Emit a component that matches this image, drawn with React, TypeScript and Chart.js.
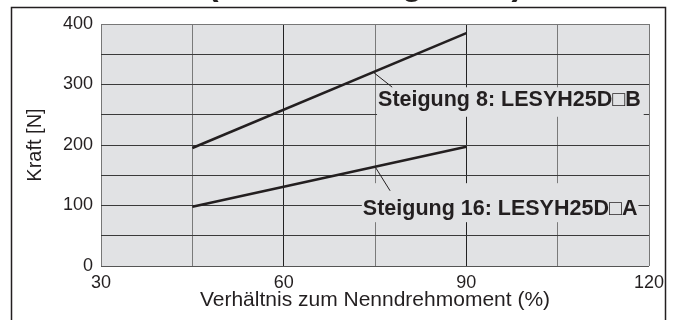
import React, { useEffect, useRef } from 'react';
import { Chart, registerables } from 'chart.js';

Chart.register(...registerables);

// ---- data ----
const torqueRatio8 = [45, 90];
const force8 = [195, 385];
const torqueRatio16 = [45, 90];
const force16 = [98, 197];
const xTickLabels = [30, 60, 90, 120];
const yTickLabels = [0, 100, 200, 300, 400];
const seriesLabels = ['Steigung 8: LESYH25D\u25A1B', 'Steigung 16: LESYH25D\u25A1A'];
const xTitle = 'Verhältnis zum Nenndrehmoment (%)';
const yTitle = 'Kraft [N]';
const chartTitle = '(Orientierungswert)';

const FONT = '"Liberation Sans", Arial, Helvetica, sans-serif';
const INK = '#231f20';

const decorPlugin = {
  id: 'decor',
  beforeDraw(chart: any) {
    const ctx = chart.ctx;
    const a = chart.chartArea;
    ctx.save();
    ctx.fillStyle = '#ffffff';
    ctx.fillRect(0, 0, chart.width, chart.height);
    ctx.strokeStyle = INK;
    ctx.lineWidth = 1.5;
    ctx.strokeRect(11.5, 7.5, 654, 340);
    ctx.font = `bold 34px ${FONT}`;
    ctx.textAlign = 'center';
    ctx.textBaseline = 'alphabetic';
    ctx.fillStyle = INK;
    ctx.fillText(chartTitle, 365, -5.5);
    ctx.fillStyle = '#e1e2e4';
    ctx.fillRect(a.left, a.top, a.right - a.left, a.bottom - a.top);
    ctx.restore();
  },
  afterDatasetsDraw(chart: any) {
    const ctx = chart.ctx;
    const xs = chart.scales.x;
    const ys = chart.scales.y;
    const specs = [
      { ds: 0, text: seriesLabels[0], tx: 75.5, ty: 264, f: 0.66, dx: 19, dy: 15, top: 19, bottom: 10.5, l: 1, r: 3 },
      { ds: 1, text: seriesLabels[1], tx: 73, ty: 84, f: 0.667, dx: 15, dy: 24, top: 32, bottom: 7, l: 1, r: 1 },
    ];
    ctx.save();
    ctx.font = `bold 21.5px ${FONT}`;
    ctx.textAlign = 'left';
    ctx.textBaseline = 'alphabetic';
    for (const s of specs) {
      const x = xs.getPixelForValue(s.tx);
      const y = ys.getPixelForValue(s.ty);
      const w = ctx.measureText(s.text).width;
      ctx.fillStyle = '#e1e2e4';
      ctx.fillRect(x - s.l, y - s.top, w + s.l + s.r, s.top + s.bottom);
      const pts = chart.getDatasetMeta(s.ds).data;
      const sx = pts[0].x + s.f * (pts[1].x - pts[0].x);
      const sy = pts[0].y + s.f * (pts[1].y - pts[0].y);
      ctx.strokeStyle = INK;
      ctx.lineWidth = 1;
      ctx.beginPath();
      ctx.moveTo(sx, sy);
      ctx.lineTo(sx + s.dx, sy + s.dy);
      ctx.stroke();
      ctx.fillStyle = INK;
      ctx.fillText(s.text, x, y);
    }
    ctx.restore();
  },
};

export default function App() {
  const ref = useRef<HTMLCanvasElement | null>(null);
  useEffect(() => {
    if (!ref.current) return;
    const chart = new Chart(ref.current, {
      type: 'scatter',
      data: {
        datasets: [
          {
            label: seriesLabels[0],
            data: torqueRatio8.map((x, i) => ({ x, y: force8[i] })),
            showLine: true,
            borderColor: INK,
            borderWidth: 2.5,
            pointRadius: 0,
          },
          {
            label: seriesLabels[1],
            data: torqueRatio16.map((x, i) => ({ x, y: force16[i] })),
            showLine: true,
            borderColor: INK,
            borderWidth: 2.5,
            pointRadius: 0,
          },
        ],
      },
      options: {
        responsive: false,
        animation: false,
        devicePixelRatio: 1,
        layout: { padding: { left: 0, right: 26, top: 24, bottom: 0 } },
        plugins: { legend: { display: false }, tooltip: { enabled: false }, title: { display: false } },
        scales: {
          x: {
            type: 'linear',
            min: 30,
            max: 120,
            afterFit: (s: any) => { s.height = 54; },
            border: { display: false },
            grid: {
              drawTicks: false,
              lineWidth: 1,
              color: (c: any) => {
                const v = c.tick?.value;
                if (v === 30 || v === 120) return '#777777';
                return xTickLabels.includes(v) ? '#222222' : '#7a7a7a';
              },
            },
            ticks: {
              stepSize: 15,
              autoSkip: false,
              maxRotation: 0,
              padding: 6,
              color: INK,
              font: { size: 18, family: FONT },
              callback: (v: any) => (xTickLabels.includes(Number(v)) ? String(v) : ''),
            },
            title: {
              display: true,
              text: xTitle,
              color: INK,
              font: { size: 21, family: FONT },
              padding: { top: 0, bottom: 7 },
            },
          },
          y: {
            type: 'linear',
            min: 0,
            max: 400,
            afterFit: (s: any) => { s.width = 101; },
            border: { display: false },
            grid: {
              drawTicks: false,
              lineWidth: 1,
              color: (c: any) => {
                const v = c.tick?.value;
                if (v === 400) return '#777777';
                if (v === 0) return '#555555';
                return '#3a3a3a';
              },
            },
            ticks: {
              stepSize: 50,
              autoSkip: false,
              padding: 8,
              color: INK,
              font: { size: 18, family: FONT },
              callback: (v: any) => (yTickLabels.includes(Number(v)) ? String(v) : ''),
            },
            title: {
              display: true,
              text: yTitle,
              color: INK,
              font: { size: 20, family: FONT },
              padding: { top: 23, bottom: 0 },
            },
          },
        },
      },
      plugins: [decorPlugin],
    } as any);
    return () => chart.destroy();
  }, []);
  return (
    <div style={{ position: 'absolute', left: 0, top: 0, width: 675, height: 320 }}>
      <canvas ref={ref} width={675} height={320} style={{ display: 'block' }} />
    </div>
  );
}
